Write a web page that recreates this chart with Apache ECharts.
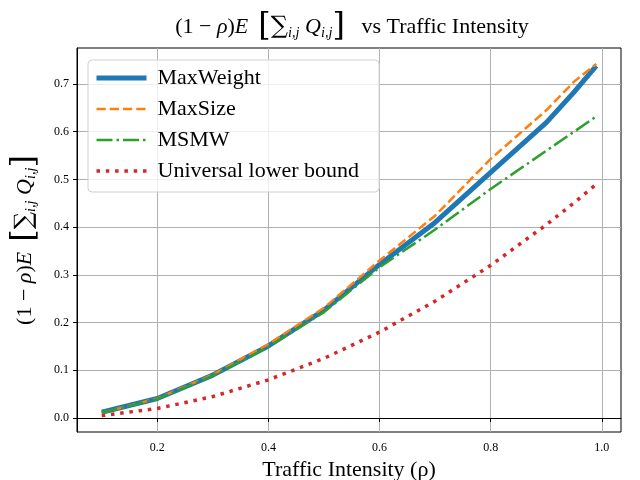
<!DOCTYPE html>
<html>
<head>
<meta charset="utf-8">
<script src="https://cdn.jsdelivr.net/npm/echarts@6/dist/echarts.min.js"></script>
<style>
  html, body { margin: 0; padding: 0; background: #fff; }
  #main { width: 640px; height: 480px; }
</style>
</head>
<body>
<div id="main"></div>
<script>
// traffic intensity (rho)
var rho = [0.1, 0.2, 0.3, 0.4, 0.5, 0.6, 0.7, 0.8, 0.9, 0.95, 0.99];
// (1-rho)E[sum Q]
var maxWeight = [0.012, 0.041, 0.090, 0.151, 0.226, 0.322, 0.410, 0.515, 0.619, 0.683, 0.738];
var maxSize = [0.011, 0.041, 0.091, 0.155, 0.231, 0.330, 0.424, 0.543, 0.645, 0.705, 0.742];
var msmw = [0.011, 0.040, 0.089, 0.149, 0.222, 0.316, 0.395, 0.480, 0.560, 0.600, 0.632];
var lowerBound = [0.005, 0.020, 0.045, 0.080, 0.125, 0.180, 0.245, 0.320, 0.405, 0.451, 0.490];
var xTicks = [0.2, 0.4, 0.6, 0.8, 1.0];
var yTicks = [0.0, 0.1, 0.2, 0.3, 0.4, 0.5, 0.6, 0.7];

var SERIF = 'Liberation Serif';

// x,y 配对
function pairs(ys) {
    return rho.map(function (x, i) { return [x, ys[i]]; });
}

// 公式的富文本样式
function mathRich(size) {
    return {
        n: { fontFamily: SERIF, fontSize: size, fontWeight: 'normal', color: '#000' },
        i: { fontFamily: SERIF, fontStyle: 'italic', fontWeight: 'normal', fontSize: size, color: '#000' },
        br: { fontFamily: 'DejaVu Serif', fontSize: size * 1.45, fontWeight: 'lighter', color: '#000' },
        sm: { fontFamily: 'DejaVu Serif', fontSize: size * 1.1, fontWeight: 'normal', color: '#000' },
        sub: { fontFamily: SERIF, fontStyle: 'italic', fontWeight: 'normal', fontSize: size * 0.65, color: '#000', padding: [size * 0.55, 0, 0, 0] }
    };
}
var mathText = '{n|(1 − }{i|ρ}{n|)}{i|E}{br| [}{sm|∑}{sub|i,j}{i| Q}{sub|i,j}{br|]}';

var chart = echarts.init(document.getElementById('main'), null, { renderer: 'canvas' });

var option = {
    backgroundColor: '#fff',
    animation: false,
    title: {
        text: mathText + '{n|   vs Traffic Intensity}',
        left: 347,
        top: 6,
        textAlign: 'center',
        textStyle: { fontWeight: 'normal', rich: mathRich(22) }
    },
    grid: {
        left: 77, right: 19, top: 48, bottom: 48,
        show: true, borderColor: '#000', borderWidth: 1,
        containLabel: false,
        outerBoundsMode: 'none'
    },
    legend: {
        left: 88, top: 60,
        orient: 'vertical',
        itemWidth: 50, itemHeight: 14, itemGap: 9,
        padding: [7, 20, 10, 6],
        backgroundColor: 'rgba(255,255,255,0.8)',
        borderColor: '#d0d0d0', borderWidth: 1, borderRadius: 4,
        itemStyle: { opacity: 0 },
        textStyle: { fontFamily: SERIF, fontSize: 22, color: '#000', padding: [0, 0, 0, 6] },
        data: [
            { name: 'MaxWeight', lineStyle: { width: 5 } },
            { name: 'MaxSize', lineStyle: { width: 2.5 } },
            { name: 'MSMW', lineStyle: { width: 2.5 } },
            { name: 'Universal lower bound', lineStyle: { width: 3.5 } }
        ]
    },
    xAxis: {
        type: 'value',
        min: 0.0555, max: 1.0345,
        name: 'Traffic Intensity (ρ)',
        nameLocation: 'middle', nameGap: 26,
        nameTextStyle: { fontFamily: SERIF, fontSize: 22, color: '#000' },
        axisLine: { lineStyle: { color: '#000', width: 1 } },
        axisTick: { show: true, inside: false, length: 4, customValues: xTicks, lineStyle: { color: '#000' } },
        axisLabel: {
            customValues: xTicks,
            fontFamily: SERIF, fontSize: 12, color: '#000', margin: 10,
            formatter: function (v) { return v.toFixed(1); }
        },
        splitLine: { show: true, lineStyle: { color: '#b0b0b0', width: 1 } }
    },
    yAxis: {
        type: 'value',
        min: -0.0293, max: 0.7755,
        name: mathText,
        nameLocation: 'middle', nameGap: 36, nameRotate: 90,
        nameTextStyle: { rich: mathRich(22) },
        axisLine: { show: true, lineStyle: { color: '#000', width: 1 } },
        axisTick: { show: true, inside: false, length: 4, customValues: yTicks, lineStyle: { color: '#000' } },
        axisLabel: {
            customValues: yTicks,
            fontFamily: SERIF, fontSize: 12, color: '#000', margin: 8,
            formatter: function (v) { return v.toFixed(1); }
        },
        splitLine: { show: true, lineStyle: { color: '#b0b0b0', width: 1 } }
    },
    series: [
        {
            name: 'MaxWeight', type: 'line', data: pairs(maxWeight),
            symbol: 'none', color: '#1f77b4', z: 2,
            lineStyle: { width: 5, color: '#1f77b4' }
        },
        {
            name: 'MaxSize', type: 'line', data: pairs(maxSize),
            symbol: 'none', color: '#ff7f0e', z: 3,
            lineStyle: { width: 2.5, color: '#ff7f0e', type: [9.25, 4] }
        },
        {
            name: 'MSMW', type: 'line', data: pairs(msmw),
            symbol: 'none', color: '#2ca02c', z: 4,
            lineStyle: { width: 2.5, color: '#2ca02c', type: [16, 4, 2.5, 4] }
        },
        {
            name: 'Universal lower bound', type: 'line', data: pairs(lowerBound),
            symbol: 'none', color: '#d62728', z: 5,
            lineStyle: { width: 3.5, color: '#d62728', type: [3.5, 5.8], cap: 'butt' }
        }
    ]
};

chart.setOption(option);
</script>
</body>
</html>
